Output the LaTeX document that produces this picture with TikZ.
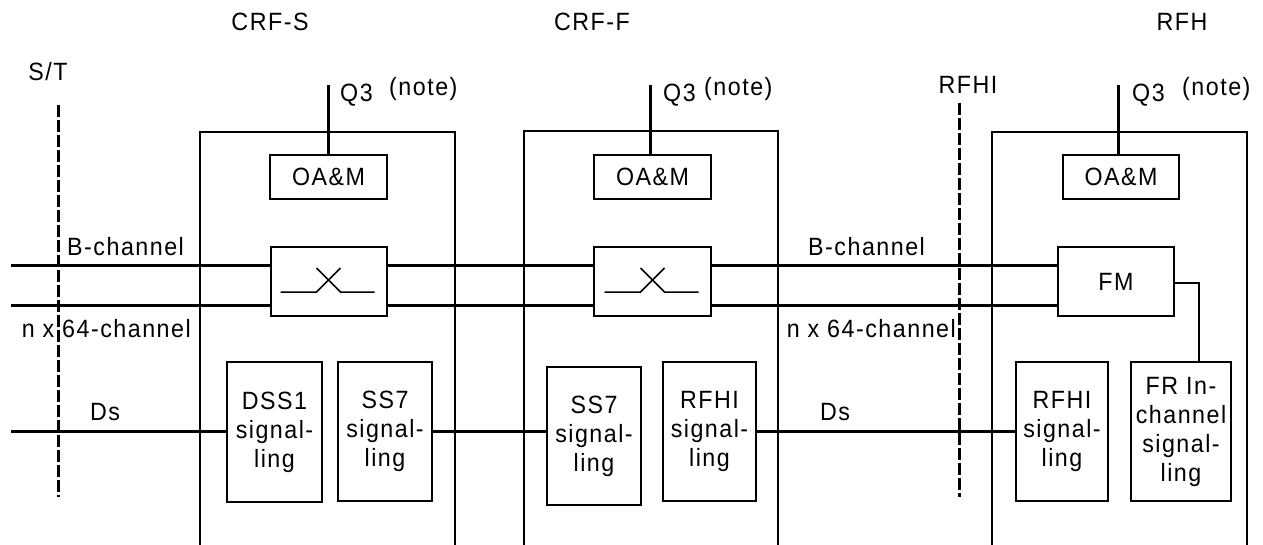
\documentclass[tikz,border=0pt]{standalone}
\usepackage{fontspec}
\setmainfont{Liberation Sans}[FakeStretch=0.93,LetterSpace=6]
\begin{document}
\begin{tikzpicture}[x=1pt,y=-1pt,
  txt/.style={font=\fontsize{25}{29}\selectfont,inner sep=0pt},
  sig/.style={draw,line width=3pt},
  frame/.style={draw,line width=2pt},
  box/.style={draw,line width=2pt,inner sep=0pt,font=\fontsize{25}{29}\selectfont,align=center},
  iface/.style={draw,line width=3pt,dash pattern=on 12pt off 3pt}]
\useasboundingbox (0,0) rectangle (1263,544);
\clip (0,0) rectangle (1263,544);
% headers
\node[txt,anchor=base] (hS) at (270,30) {CRF-S};
\node[txt,anchor=base] (hF) at (592,30) {CRF-F};
\node[txt,anchor=base] (hR) at (1182,30) {RFH};
% interfaces
\node[txt,anchor=base] (st) at (48,80) {S/T};
\node[txt,anchor=base] (rfhi) at (968,93) {RFHI};
\coordinate (stT) at (58,105);
\coordinate (stB) at (58,497);
\coordinate (rfT) at (959,103);
\coordinate (rfB) at (959,497);
\draw[iface] (stT) -- (stB);
\draw[iface] (rfT) -- (rfB);
% big frames
\draw[frame] (200,545) |- (455,132) -- (455,545);
\draw[frame] (524,545) |- (778,131) -- (778,545);
\draw[frame] (992,545) |- (1247,132) -- (1247,545);
% OA&M boxes
\node[box,minimum width=117pt,minimum height=44pt] (oam1) at (328.5,177) {OA\&M};
\node[box,minimum width=117pt,minimum height=44pt] (oam2) at (652.5,176.5) {OA\&M};
\node[box,minimum width=116pt,minimum height=44pt] (oam3) at (1121,177) {OA\&M};
% Q3
\coordinate (q1) at (328,85);
\coordinate (q2) at (650,85);
\coordinate (q3) at (1118,85);
\draw[sig] (q1) -- (q1 |- oam1.north);
\draw[sig] (q2) -- (q2 |- oam2.north);
\draw[sig] (q3) -- (q3 |- oam3.north);
\node[txt,anchor=base west] (q1t) at (340,101) {Q3};
\node[txt,anchor=base west] (n1t) at (389,95) {(note)};
\node[txt,anchor=base west] (q2t) at (663,101) {Q3};
\node[txt,anchor=base west] (n2t) at (704,95) {(note)};
\node[txt,anchor=base west] (q3t) at (1132,101) {Q3};
\node[txt,anchor=base west] (n3t) at (1182,95) {(note)};
% switches
\node[box,minimum width=116pt,minimum height=69pt] (sw1) at (328.5,281.5) {};
\node[box,minimum width=117pt,minimum height=69pt] (sw2) at (652.5,281.5) {};
\node[box,minimum width=116pt,minimum height=69pt] (fm) at (1116,281.5) {FM};
\foreach \s in {sw1,sw2}{
  \draw[line width=1.5pt] ([xshift=-48pt,yshift=-10.5pt]\s.center) -- ([xshift=-12pt,yshift=-10.5pt]\s.center)
     -- ([xshift=12pt,yshift=13.5pt]\s.center);
  \draw[line width=1.5pt] ([xshift=-12pt,yshift=13.5pt]\s.center) -- ([xshift=12pt,yshift=-10.5pt]\s.center)
     -- ([xshift=46pt,yshift=-10.5pt]\s.center);
}
% channel lines
\coordinate (bL) at (11,265);
\coordinate (nL) at (11,305);
\draw[sig] (bL) -- (bL -| sw1.west);
\draw[sig] (nL) -- (nL -| sw1.west);
\draw[sig] (bL -| sw1.east) -- (bL -| sw2.west);
\draw[sig] (nL -| sw1.east) -- (nL -| sw2.west);
\draw[sig] (bL -| sw2.east) -- (bL -| fm.west);
\draw[sig] (nL -| sw2.east) -- (nL -| fm.west);
\node[txt,anchor=base west] (bc1) at (67,255) {B-channel};
\node[txt,anchor=base west] (bc2) at (808,255) {B-channel};
\node[txt,anchor=base east] (nc1) at (191,337) {n x 64-channel};
\node[txt,anchor=base east] (nc2) at (956,337) {n x 64-channel};
% signalling boxes
\node[box,minimum width=95pt,minimum height=140pt] (dss1) at (274.5,432) {DSS1\\signal-\\ling};
\node[box,minimum width=94pt,minimum height=139pt] (ss7a) at (385,431.5) {SS7\\signal-\\ling};
\node[box,minimum width=94pt,minimum height=138pt] (ss7b) at (594,436) {SS7\\signal-\\ling};
\node[box,minimum width=93pt,minimum height=139pt] (rfhia) at (709.5,431.5) {RFHI\\signal-\\ling};
\node[box,minimum width=92pt,minimum height=139pt] (rfhib) at (1062,431.5) {RFHI\\signal-\\ling};
\node[box,minimum width=100pt,minimum height=139pt] (fr) at (1181,431.5) {FR In-\\channel\\signal-\\ling};
% Ds lines
\coordinate (dL) at (11,431);
\draw[sig] (dL) -- (dL -| dss1.west);
\draw[sig] (dL -| ss7a.east) -- (dL -| ss7b.west);
\draw[sig] (dL -| rfhia.east) -- (dL -| rfhib.west);
\node[txt,anchor=base west] (ds1) at (90,420) {Ds};
\node[txt,anchor=base west] (ds2) at (820,420) {Ds};
% FM to FR
\coordinate (frj) at (1199,283);
\draw[line width=2pt] (fm.east |- frj) -- (frj) -- (frj |- fr.north);
\end{tikzpicture}
\end{document}
